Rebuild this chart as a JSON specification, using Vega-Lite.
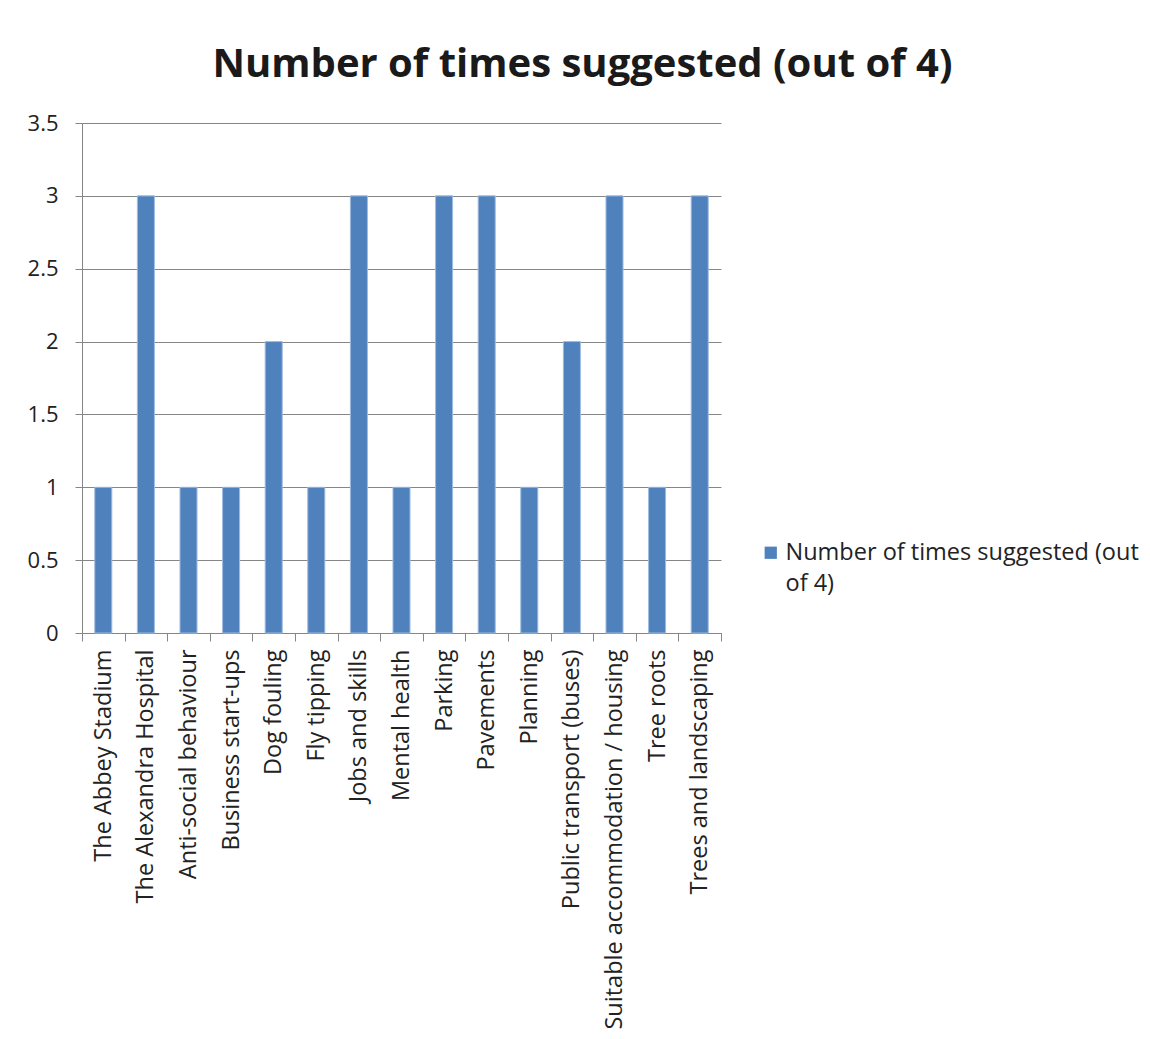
{
  "$schema": "https://vega.github.io/schema/vega-lite/v6.json",
  "autosize": "none",
  "padding": {"left": 82, "top": 123, "right": 429, "bottom": 406},
  "width": 639,
  "height": 510,
  "background": "white",
  "title": {
    "text": "Number of times suggested (out of 4)",
    "anchor": "middle",
    "dx": 181,
    "offset": 27,
    "fontSize": 40,
    "font": "Open Sans",
    "fontWeight": "bold",
    "color": "#1a1a1a"
  },
  "data": {
    "values": [
      {"topic": "The Abbey Stadium", "count": 1, "series": "Number of times suggested (out of 4)"},
      {"topic": "The Alexandra Hospital", "count": 3, "series": "Number of times suggested (out of 4)"},
      {"topic": "Anti-social behaviour", "count": 1, "series": "Number of times suggested (out of 4)"},
      {"topic": "Business start-ups", "count": 1, "series": "Number of times suggested (out of 4)"},
      {"topic": "Dog fouling", "count": 2, "series": "Number of times suggested (out of 4)"},
      {"topic": "Fly tipping", "count": 1, "series": "Number of times suggested (out of 4)"},
      {"topic": "Jobs and skills", "count": 3, "series": "Number of times suggested (out of 4)"},
      {"topic": "Mental health", "count": 1, "series": "Number of times suggested (out of 4)"},
      {"topic": "Parking", "count": 3, "series": "Number of times suggested (out of 4)"},
      {"topic": "Pavements", "count": 3, "series": "Number of times suggested (out of 4)"},
      {"topic": "Planning", "count": 1, "series": "Number of times suggested (out of 4)"},
      {"topic": "Public transport (buses)", "count": 2, "series": "Number of times suggested (out of 4)"},
      {"topic": "Suitable accommodation / housing", "count": 3, "series": "Number of times suggested (out of 4)"},
      {"topic": "Tree roots", "count": 1, "series": "Number of times suggested (out of 4)"},
      {"topic": "Trees and landscaping", "count": 3, "series": "Number of times suggested (out of 4)"}
    ]
  },
  "mark": {"type": "bar", "width": {"band": 0.4}, "stroke": "#9fbbe0", "strokeWidth": 1},
  "encoding": {
    "x": {
      "field": "topic",
      "type": "nominal",
      "sort": null,
      "scale": {"paddingInner": 0, "paddingOuter": 0},
      "axis": {
        "title": null,
        "tickBand": "extent",
        "labelAngle": -90,
        "labelAlign": "right",
        "labelBaseline": "middle",
        "labelPadding": 8,
        "labelFontSize": 23.5,
        "tickSize": 8,
        "labelLimit": 450
      }
    },
    "y": {
      "field": "count",
      "type": "quantitative",
      "scale": {"domain": [0, 3.5], "nice": false},
      "axis": {
        "title": null,
        "values": [0, 0.5, 1, 1.5, 2, 2.5, 3, 3.5],
        "labelExpr": "'' + datum.value",
        "tickSize": 7,
        "labelPadding": 17,
        "labelFontSize": 22,
        "grid": true
      }
    },
    "color": {
      "field": "series",
      "type": "nominal",
      "scale": {"range": ["#4F81BD"]},
      "legend": {
        "title": null,
        "orient": "none",
        "legendX": 677,
        "legendY": 418,
        "symbolType": "square",
        "symbolSize": 150,
        "symbolStrokeWidth": 0,
        "labelExpr": "['Number of times suggested (out', 'of 4)']",
        "labelFontSize": 23.5,
        "labelLimit": 500,
        "labelOffset": 3
      }
    }
  },
  "config": {
    "view": {"stroke": null},
    "font": "Open Sans",
    "axis": {
      "labelFont": "Open Sans",
      "labelColor": "#222222",
      "domainColor": "#868686",
      "tickColor": "#868686",
      "gridColor": "#868686",
      "gridOpacity": 1,
      "domainWidth": 1,
      "tickWidth": 1
    },
    "legend": {"labelFont": "Open Sans", "labelColor": "#222222"},
    "style": {"guide-label": {"lineHeight": 31}}
  }
}
